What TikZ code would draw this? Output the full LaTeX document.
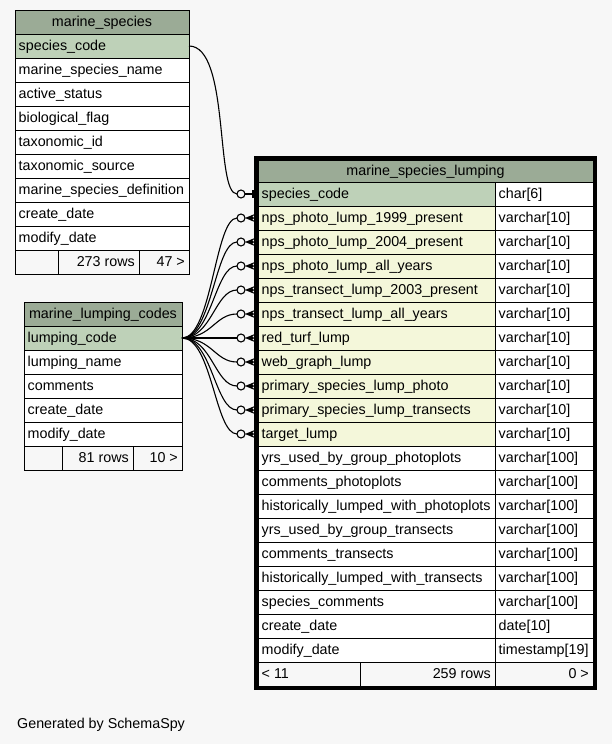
\documentclass[tikz,border=0pt]{standalone}
\usepackage{fontspec}
\setmainfont{Liberation Sans}
\definecolor{bg}{HTML}{F7F7F7}
\definecolor{hdr}{HTML}{9BAB96}
\definecolor{pk}{HTML}{BED1B8}
\definecolor{fk}{HTML}{F4F7DA}
\newcommand\tcell[6]{% name, x, ytop, w, h, fill
  \node[cellrect, fill=#6, minimum width=#4pt, minimum height=#5pt] (#1) at ({#2+#4/2},{#3+#5/2}) {};}
\newcommand\ltext[2]{\node[ctext, anchor=west] at ([xshift=3.5pt,yshift=-0.5pt]#1.west) {#2};}
\newcommand\rtext[2]{\node[ctext, anchor=east] at ([xshift=-4pt,yshift=-0.5pt]#1.east) {#2};}
\begin{document}
\begin{tikzpicture}[x=1pt,y=-1pt, font=\fontsize{14.3}{16}\selectfont,
  cellrect/.style={draw=black, line width=0.9pt, inner sep=0pt, outer sep=0pt},
  ctext/.style={inner sep=0pt, text height=10pt, text depth=3pt},
  conn/.style={line width=1.1pt, draw=black},
  odot/.style={line width=1.1pt, draw=black, fill=bg}]
\useasboundingbox[fill=bg] (0,0) rectangle (612,744);

% ---------- marine_species ----------
\tcell{msh}{15}{10}{174}{24}{hdr}
\node[ctext] at ([yshift=-0.5pt]msh.center) {marine\_species};
\tcell{ms0}{15}{34}{174}{24}{pk}
\ltext{ms0}{species\_code}
\foreach \t [count=\i] in {marine\_species\_name, active\_status, biological\_flag, taxonomic\_id, taxonomic\_source, marine\_species\_definition, create\_date, modify\_date}{
  \tcell{ms\i}{15}{34+24*\i}{174}{24}{white}
  \ltext{ms\i}{\t}
}
\tcell{msf1}{15}{250}{43}{24}{bg}
\tcell{msf2}{58}{250}{81}{24}{bg}
\tcell{msf3}{139}{250}{50}{24}{bg}
\rtext{msf2}{273 rows}
\rtext{msf3}{47 >}

% ---------- marine_lumping_codes ----------
\tcell{mlch}{24}{302}{158}{24}{hdr}
\node[ctext] at ([yshift=-0.5pt]mlch.center) {marine\_lumping\_codes};
\tcell{mlc0}{24}{326}{158}{24}{pk}
\ltext{mlc0}{lumping\_code}
\foreach \t [count=\i] in {lumping\_name, comments, create\_date, modify\_date}{
  \tcell{mlc\i}{24}{326+24*\i}{158}{24}{white}
  \ltext{mlc\i}{\t}
}
\tcell{mlcf1}{24}{446}{38}{24}{bg}
\tcell{mlcf2}{62}{446}{71}{24}{bg}
\tcell{mlcf3}{133}{446}{49}{24}{bg}
\rtext{mlcf2}{81 rows}
\rtext{mlcf3}{10 >}

% ---------- marine_species_lumping ----------
\tcell{mslh}{258}{160}{335}{22}{hdr}
\node[ctext] at ([yshift=-0.5pt]mslh.center) {marine\_species\_lumping};
\tcell{msl0}{258}{182}{237}{24}{pk}
\tcell{mslt0}{495}{182}{98}{24}{white}
\ltext{msl0}{species\_code}
\ltext{mslt0}{char[6]}
\foreach \t [count=\i] in {nps\_photo\_lump\_1999\_present, nps\_photo\_lump\_2004\_present, nps\_photo\_lump\_all\_years, nps\_transect\_lump\_2003\_present, nps\_transect\_lump\_all\_years, red\_turf\_lump, web\_graph\_lump, primary\_species\_lump\_photo, primary\_species\_lump\_transects, target\_lump}{
  \tcell{msl\i}{258}{182+24*\i}{237}{24}{fk}
  \tcell{mslt\i}{495}{182+24*\i}{98}{24}{white}
  \ltext{msl\i}{\t}
  \ltext{mslt\i}{varchar[10]}
}
\foreach \t/\ty [count=\j] in {yrs\_used\_by\_group\_photoplots/varchar[100], comments\_photoplots/varchar[100], historically\_lumped\_with\_photoplots/varchar[100], yrs\_used\_by\_group\_transects/varchar[100], comments\_transects/varchar[100], historically\_lumped\_with\_transects/varchar[100], species\_comments/varchar[100], create\_date/date[10], modify\_date/timestamp[19]}{
  \pgfmathtruncatemacro\i{\j+10}
  \tcell{msl\i}{258}{182+24*\i}{237}{24}{white}
  \tcell{mslt\i}{495}{182+24*\i}{98}{24}{white}
  \ltext{msl\i}{\t}
  \ltext{mslt\i}{\ty}
}
\tcell{mslf1}{258}{662}{102}{24}{bg}
\tcell{mslf2}{360}{662}{135}{24}{bg}
\tcell{mslf3}{495}{662}{98}{24}{bg}
\ltext{mslf1}{< 11}
\rtext{mslf2}{259 rows}
\rtext{mslf3}{0 >}
\draw[line width=3.3pt] ([xshift=-2pt,yshift=2pt]mslh.north west) rectangle ([xshift=2pt,yshift=-2pt]mslf3.south east);

% ---------- connectors ----------
\draw[conn] (ms0.east) .. controls +(41,0) and +(-22,0) .. ([xshift=-21pt]msl0.west);
\foreach \i in {1,...,10}{
  \draw[conn] (mlc0.east) .. controls +(30,0) and +(-22,0) .. ([xshift=-21pt]msl\i.west);
}

% ---------- end markers ----------
\draw[odot] ([xshift=-17pt]msl0.west) circle (4);
\draw[conn] ([xshift=-13pt]msl0.west) -- ([xshift=-3pt]msl0.west);
\draw[line width=3pt] ([xshift=-5pt,yshift=4pt]msl0.west) -- ([xshift=-5pt,yshift=-4pt]msl0.west);
\foreach \i in {1,...,10}{
  \draw[odot] ([xshift=-17pt]msl\i.west) circle (4);
  \fill[black] ([xshift=-13pt]msl\i.west) -- ([xshift=-2pt,yshift=4.5pt]msl\i.west)
    -- ([xshift=-6pt,yshift=1pt]msl\i.west) -- ([xshift=-2pt]msl\i.west)
    -- ([xshift=-6pt,yshift=-1pt]msl\i.west) -- ([xshift=-2pt,yshift=-4.5pt]msl\i.west) -- cycle;
}

\node[ctext, anchor=base west] (gen) at (17,728) {Generated by SchemaSpy};
\end{tikzpicture}
\end{document}
